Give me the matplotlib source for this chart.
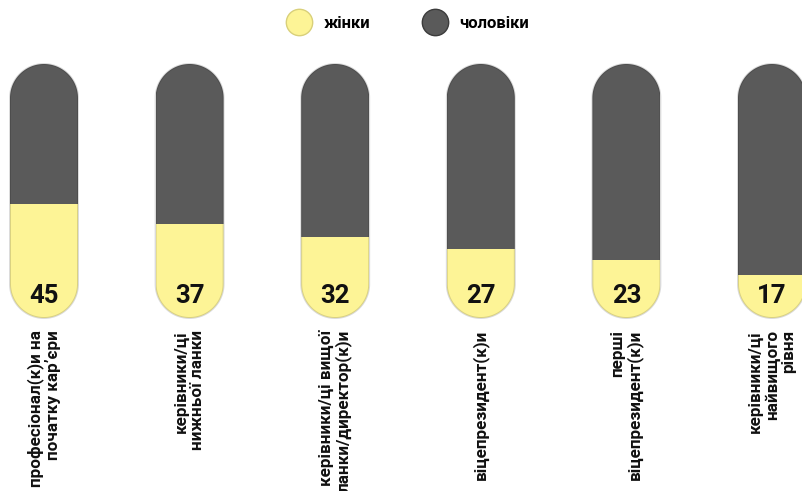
import numpy as np
import matplotlib.pyplot as plt
from matplotlib.patches import Polygon
from matplotlib.lines import Line2D

plt.rcParams['font.family'] = ['Roboto', 'DejaVu Sans']

# data: share of women (%) at each career level, men = the rest
levels = ['професіонал(к)и на\nпочатку кар\u02bcєри',
          'керівники/ці\nнижньої ланки',
          'керівники/ці вищої\nланки/директор(к)и',
          'віцепрезидент(к)и',
          'перші\nвіцепрезидент(к)и',
          'керівники/ці\nнайвищого\nрівня']
women = [45, 37, 32, 27, 23, 17]
men = [100 - w for w in women]

women_color = '#fdf496'
men_color = '#5a5a5a'

W, H, DPI = 802, 491, 100
fig = plt.figure(figsize=(W / DPI, H / DPI), dpi=DPI)
ax = fig.add_axes([0, 0, 1, 1])

# pixel geometry of the capsules
x_step = 145.6   # px between capsule centres
first_x = 44     # px, centre of first capsule
cap_w = 68       # px
bottom_px = 491 - 318
px_per_unit = 2.54

ax.set_xlim(-first_x / x_step, (W - first_x) / x_step)
ax.set_ylim(-bottom_px / px_per_unit, (H - bottom_px) / px_per_unit)
ax.axis('off')

bw = cap_w / x_step
aspect = x_step / px_per_unit  # y units per x unit for circular ends
x = np.arange(len(levels))


def capsule(xc, **kw):
    # pill outline as a plain polygon (round ends look circular on screen)
    rx = bw / 2
    ry = rx * aspect
    t_top = np.linspace(0, np.pi, 60)
    t_bot = np.linspace(np.pi, 2 * np.pi, 60)
    top = np.column_stack([xc + rx * np.cos(t_top), 100 - ry + ry * np.sin(t_top)])
    bot = np.column_stack([xc + rx * np.cos(t_bot), ry + ry * np.sin(t_bot)])
    return Polygon(np.vstack([top, bot]), closed=True, **kw)


for i in x:
    clip = capsule(i, facecolor='none', edgecolor='none')
    ax.add_patch(clip)
    b1 = ax.bar(i, women[i], width=bw, color=women_color, linewidth=0)
    b2 = ax.bar(i, men[i], width=bw, bottom=women[i], color=men_color, linewidth=0)
    for b in list(b1) + list(b2):
        b.set_clip_path(clip)
    # soft rim for a bit of depth
    ax.add_patch(capsule(i, facecolor='none', edgecolor=(0, 0, 0, 0.14), linewidth=1.4))
    ax.text(i, 8.7, str(women[i]), ha='center', va='center',
            fontsize=18.5, fontweight='bold', color='#111111')
    ax.text(i, -4.7, levels[i], rotation=90, ha='center', va='top',
            multialignment='right', fontsize=12.3, fontweight='bold',
            color='#111111', linespacing=1.1)

handles = [Line2D([], [], linestyle='none', marker='o', markersize=19,
                  markerfacecolor=women_color, markeredgecolor='#d9d07a'),
           Line2D([], [], linestyle='none', marker='o', markersize=19,
                  markerfacecolor=men_color, markeredgecolor='#3c3c3c')]
leg = fig.legend(handles, ['жінки', 'чоловіки'], loc='center',
                 bbox_to_anchor=(0.506, 0.953), ncol=2, frameon=False,
                 prop={'weight': 'bold', 'size': 12}, handletextpad=0.5,
                 columnspacing=2.85)

fig.savefig('out.png', dpi=DPI)
